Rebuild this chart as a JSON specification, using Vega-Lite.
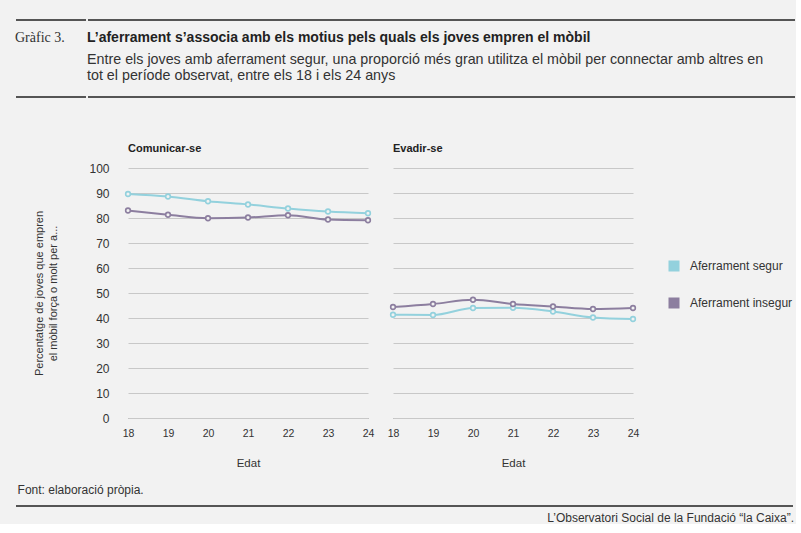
{
  "$schema": "https://vega.github.io/schema/vega-lite/v6.json",
  "background": "#f2f2f2",
  "padding": {"left": 15, "top": 19, "right": 0, "bottom": 0},
  "config": {
    "view": {"stroke": null},
    "font": "Liberation Sans"
  },
  "columns": 1,
  "align": "none",
  "spacing": 9,
  "concat": [
    {
      "columns": 1,
      "align": "none",
      "spacing": 45,
      "concat": [
        {
          "spacing": 0,
          "hconcat": [
            {
              "width": 70,
              "height": 77,
              "data": {"values": [{}]},
              "title": {"text": "Gràfic 3.", "orient": "bottom", "anchor": "start", "offset": -67, "font": "Liberation Serif", "fontSize": 14, "fontWeight": "normal", "color": "#333333"},
              "layer": [
                {"mark": {"type": "rule", "color": "#555555", "strokeWidth": 2}, "encoding": {"y": {"datum": 1, "type": "quantitative", "scale": {"domain": [0, 1]}, "axis": null}}},
                {"mark": {"type": "rule", "color": "#555555", "strokeWidth": 2}, "encoding": {"y": {"datum": 0, "type": "quantitative", "scale": {"domain": [0, 1]}, "axis": null}}}
              ]
            },
            {
              "width": 707,
              "height": 77,
              "data": {"values": [{}]},
              "title": {
                "text": "L’aferrament s’associa amb els motius pels quals els joves empren el mòbil",
                "subtitle": ["Entre els joves amb aferrament segur, una proporció més gran utilitza el mòbil per connectar amb altres en", "tot el període observat, entre els 18 i els 24 anys"],
                "orient": "bottom", "anchor": "start", "offset": -67,
                "font": "Liberation Sans", "fontSize": 14, "fontWeight": "bold", "color": "#222222",
                "subtitleFont": "Liberation Sans", "subtitleFontSize": 14.3, "subtitleColor": "#333333", "subtitleLineHeight": 16.3, "subtitlePadding": 8
              },
              "layer": [
                {"mark": {"type": "rule", "color": "#555555", "strokeWidth": 2}, "encoding": {"y": {"datum": 1, "type": "quantitative", "scale": {"domain": [0, 1]}, "axis": null}}},
                {"mark": {"type": "rule", "color": "#555555", "strokeWidth": 2}, "encoding": {"y": {"datum": 0, "type": "quantitative", "scale": {"domain": [0, 1]}, "axis": null}}}
              ]
            }
          ]
        },
        {
          "spacing": 0,
          "hconcat": [
            {
              "width": 1,
              "height": 1,
              "data": {"values": [{}]},
              "mark": {"type": "rule", "opacity": 0},
              "encoding": {"y": {"datum": 0, "type": "quantitative", "axis": null}}
            },
            {
              "data": {
                "values": [
                  {"panel": "Comunicar-se", "group": "Aferrament segur", "age": 18, "value": 89.6},
                  {"panel": "Comunicar-se", "group": "Aferrament segur", "age": 19, "value": 88.6},
                  {"panel": "Comunicar-se", "group": "Aferrament segur", "age": 20, "value": 86.7},
                  {"panel": "Comunicar-se", "group": "Aferrament segur", "age": 21, "value": 85.4},
                  {"panel": "Comunicar-se", "group": "Aferrament segur", "age": 22, "value": 83.8},
                  {"panel": "Comunicar-se", "group": "Aferrament segur", "age": 23, "value": 82.6},
                  {"panel": "Comunicar-se", "group": "Aferrament segur", "age": 24, "value": 81.9},
                  {"panel": "Comunicar-se", "group": "Aferrament insegur", "age": 18, "value": 83.0},
                  {"panel": "Comunicar-se", "group": "Aferrament insegur", "age": 19, "value": 81.3},
                  {"panel": "Comunicar-se", "group": "Aferrament insegur", "age": 20, "value": 79.9},
                  {"panel": "Comunicar-se", "group": "Aferrament insegur", "age": 21, "value": 80.2},
                  {"panel": "Comunicar-se", "group": "Aferrament insegur", "age": 22, "value": 81.1},
                  {"panel": "Comunicar-se", "group": "Aferrament insegur", "age": 23, "value": 79.4},
                  {"panel": "Comunicar-se", "group": "Aferrament insegur", "age": 24, "value": 79.1},
                  {"panel": "Evadir-se", "group": "Aferrament segur", "age": 18, "value": 41.3},
                  {"panel": "Evadir-se", "group": "Aferrament segur", "age": 19, "value": 41.2},
                  {"panel": "Evadir-se", "group": "Aferrament segur", "age": 20, "value": 44.0},
                  {"panel": "Evadir-se", "group": "Aferrament segur", "age": 21, "value": 44.1},
                  {"panel": "Evadir-se", "group": "Aferrament segur", "age": 22, "value": 42.6},
                  {"panel": "Evadir-se", "group": "Aferrament segur", "age": 23, "value": 40.2},
                  {"panel": "Evadir-se", "group": "Aferrament segur", "age": 24, "value": 39.6},
                  {"panel": "Evadir-se", "group": "Aferrament insegur", "age": 18, "value": 44.4},
                  {"panel": "Evadir-se", "group": "Aferrament insegur", "age": 19, "value": 45.6},
                  {"panel": "Evadir-se", "group": "Aferrament insegur", "age": 20, "value": 47.3},
                  {"panel": "Evadir-se", "group": "Aferrament insegur", "age": 21, "value": 45.6},
                  {"panel": "Evadir-se", "group": "Aferrament insegur", "age": 22, "value": 44.6},
                  {"panel": "Evadir-se", "group": "Aferrament insegur", "age": 23, "value": 43.6},
                  {"panel": "Evadir-se", "group": "Aferrament insegur", "age": 24, "value": 44.0}
                ]
              },
              "title": {"text": "Font: elaboració pròpia.", "orient": "bottom", "anchor": "start", "frame": "bounds", "dx": -16, "offset": 16, "font": "Liberation Sans", "fontSize": 12, "fontWeight": "normal", "color": "#333333"},
              "spacing": 13,
              "facet": {
                "column": {
                  "field": "panel", "type": "nominal", "sort": ["Comunicar-se", "Evadir-se"],
                  "header": {"title": null, "labelAnchor": "start", "labelAlign": "left", "labelFont": "Liberation Sans", "labelFontWeight": "bold", "labelFontSize": 11, "labelColor": "#222222", "labelPadding": 14}
                }
              },
              "spec": {
                "width": 240,
                "height": 250,
                "encoding": {
                  "x": {
                    "field": "age", "type": "ordinal",
                    "scale": {"type": "point", "padding": 0},
                    "axis": {"title": "Edat", "labelAngle": 0, "ticks": false, "tickSize": 0, "labelPadding": 10, "labelFont": "Liberation Sans", "labelFontSize": 10.5, "labelColor": "#333333", "domain": true, "domainColor": "#888888", "domainWidth": 1, "titleFont": "Liberation Sans", "titleFontSize": 11.5, "titleFontWeight": "normal", "titleColor": "#333333", "titlePadding": 19, "grid": false}
                  },
                  "y": {
                    "field": "value", "type": "quantitative",
                    "scale": {"domain": [0, 100], "nice": false},
                    "axis": {
                      "title": ["Percentatge de joves que empren", "el mòbil força o molt per a..."],
                      "values": [0, 10, 20, 30, 40, 50, 60, 70, 80, 90, 100],
                      "ticks": false, "tickSize": 0, "domain": false, "labelPadding": 13, "labelFont": "Liberation Sans", "labelFontSize": 12, "labelColor": "#333333",
                      "gridColor": "#c8c8c8", "gridWidth": 1,
                      "titleFont": "Liberation Sans", "titleFontSize": 11, "titleFontWeight": "normal", "titleColor": "#333333", "titleLineHeight": 14.4, "titlePadding": 30
                    }
                  },
                  "color": {
                    "field": "group", "type": "nominal",
                    "scale": {"domain": ["Aferrament segur", "Aferrament insegur"], "range": ["#93d1dd", "#8c7e9f"]},
                    "legend": {
                      "title": null, "orient": "none", "legendX": 652, "legendY": 240, "padding": 0,
                      "symbolType": "square", "symbolSize": 121, "symbolStrokeWidth": 0,
                      "labelFont": "Liberation Sans", "labelFontSize": 12, "labelColor": "#333333", "labelOffset": 10, "rowPadding": 25,
                      "encode": {"symbols": {"update": {"fill": {"scale": "color", "field": "value"}, "opacity": {"value": 1}}}}
                    }
                  }
                },
                "layer": [
                  {"mark": {"type": "line", "interpolate": "monotone", "strokeWidth": 2}},
                  {"mark": {"type": "point", "filled": false, "fill": "#f2f2f2", "fillOpacity": 1, "opacity": 1, "size": 22, "strokeWidth": 1.6}}
                ]
              }
            }
          ]
        }
      ]
    },
    {
      "width": 777,
      "height": 1,
      "data": {"values": [{}]},
      "title": {"text": "L’Observatori Social de la Fundació “la Caixa”.", "orient": "bottom", "anchor": "end", "offset": 6, "font": "Liberation Sans", "fontSize": 12, "fontWeight": "normal", "color": "#333333"},
      "mark": {"type": "rule", "color": "#555555", "strokeWidth": 2},
      "encoding": {"y": {"datum": 1, "type": "quantitative", "scale": {"domain": [0, 1]}, "axis": null}}
    }
  ]
}
